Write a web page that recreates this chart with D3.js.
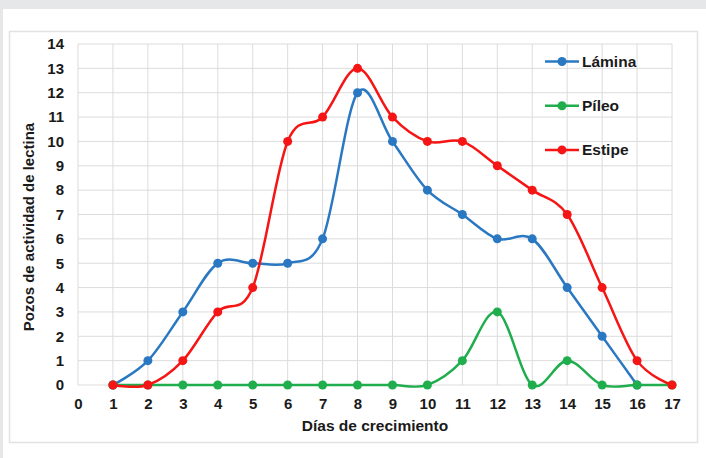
<!DOCTYPE html>
<html lang="es">
<head>
  <meta charset="UTF-8">
  <title>Pozos de actividad de lectina</title>
  <style>
    html, body { margin: 0; padding: 0; background: #e6e7e9; }
    svg { display: block; }
    text { font-family: "Liberation Sans", Arial, sans-serif; font-weight: bold; fill: #1a1a1a; }
    .grid line { stroke: #dcdcdc; stroke-width: 1px; }
    .serie { fill: none; stroke-width: 2.5px; }
  </style>
</head>
<body>
  <script src="https://cdn.jsdelivr.net/npm/d3@7/dist/d3.min.js"></script>
  <script>
    const dias = d3.range(1, 18);
    const lamina = [0, 1, 3, 5, 5, 5, 6, 12, 10, 8, 7, 6, 6, 4, 2, 0];
    const pileo  = [0, 0, 0, 0, 0, 0, 0, 0, 0, 0, 1, 3, 0, 1, 0, 0, 0];
    const estipe = [0, 0, 1, 3, 4, 10, 11, 13, 11, 10, 10, 9, 8, 7, 4, 1, 0];
    const xTicks = d3.range(0, 18);
    const yTicks = d3.range(0, 15);

    const series = [
      { name: 'Lámina', values: lamina, color: '#2a78c2' },
      { name: 'Píleo', values: pileo, color: '#1fad4e' },
      { name: 'Estipe', values: estipe, color: '#f51515' }
    ];

    const width = 706, height = 458;
    const plotL = 78, plotR = 672, plotT = 44, plotB = 385;

    const svg = d3.select('body').append('svg')
      .attr('width', width).attr('height', height);

    // fondo blanco y marco
    svg.append('rect').attr('x', 3).attr('y', 9).attr('width', width - 3).attr('height', height - 9)
      .attr('fill', '#fff');
    svg.append('rect').attr('x', 9.5).attr('y', 31.5).attr('width', 688).attr('height', 411)
      .attr('fill', 'none').attr('stroke', '#e2e2e2').attr('stroke-width', 1.5);

    const x = d3.scaleLinear().domain([0, 17]).range([plotL, plotR]);
    const y = d3.scaleLinear().domain([0, 14]).range([plotB, plotT]);

    // rejilla
    const grid = svg.append('g').attr('class', 'grid');
    grid.selectAll('line.v').data(xTicks).enter().append('line')
      .attr('x1', d => x(d)).attr('x2', d => x(d)).attr('y1', plotT).attr('y2', plotB);
    grid.selectAll('line.h').data(yTicks).enter().append('line')
      .attr('y1', d => y(d)).attr('y2', d => y(d)).attr('x1', plotL).attr('x2', plotR);

    // ejes (solo etiquetas)
    const xAxis = svg.append('g').attr('transform', `translate(0,${plotB})`)
      .call(d3.axisBottom(x).tickValues(xTicks).tickSize(0).tickPadding(13));
    const yAxis = svg.append('g').attr('transform', `translate(${plotL},0)`)
      .call(d3.axisLeft(y).tickValues(yTicks).tickSize(0).tickPadding(14));
    [xAxis, yAxis].forEach(g => {
      g.select('.domain').remove();
      g.selectAll('text').attr('font-size', 15).attr('font-family', null).style('fill', '#1a1a1a');
    });

    svg.append('text').attr('x', 375).attr('y', 431).attr('text-anchor', 'middle')
      .attr('font-size', 15.5).text('Días de crecimiento');
    svg.append('text').attr('transform', 'translate(34,227) rotate(-90)').attr('text-anchor', 'middle')
      .attr('font-size', 15).text('Pozos de actividad de lectina');

    const line = d3.line().curve(d3.curveCardinal.tension(0))
      .x((d, i) => x(dias[i])).y(d => y(d));

    series.forEach(s => {
      const g = svg.append('g');
      g.append('path').attr('class', 'serie').attr('stroke', s.color).attr('d', line(s.values));
      g.selectAll('circle').data(s.values).enter().append('circle')
        .attr('cx', (d, i) => x(dias[i])).attr('cy', d => y(d)).attr('r', 4.5)
        .attr('fill', s.color);
    });

    // leyenda
    const legend = svg.append('g');
    series.forEach((s, i) => {
      const ly = 61.5 + i * 44.2;
      legend.append('line').attr('x1', 545).attr('x2', 579).attr('y1', ly).attr('y2', ly)
        .attr('stroke', s.color).attr('stroke-width', 2.5);
      legend.append('circle').attr('cx', 562).attr('cy', ly).attr('r', 4.5).attr('fill', s.color);
      legend.append('text').attr('x', 582).attr('y', ly + 5.5).attr('font-size', 15.5).text(s.name);
    });
  </script>
</body>
</html>
